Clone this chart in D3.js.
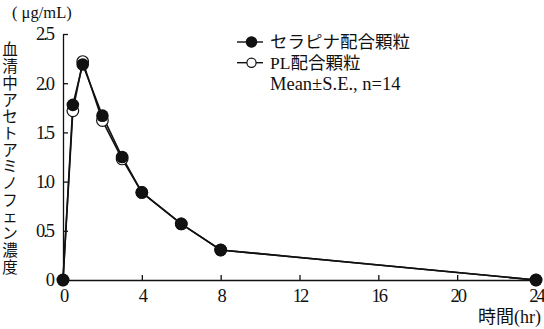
<!DOCTYPE html>
<html>
<head>
<meta charset="utf-8">
<script src="https://cdn.jsdelivr.net/npm/d3@7"></script>
<style>
  body { margin: 0; background: #fff; }
  text { font-family: "Liberation Serif", "DejaVu Serif", "Noto Sans CJK JP", serif; fill: #111; }
</style>
</head>
<body>
<script>
// DATA
const hours = [0, 0.5, 1, 2, 3, 4, 6, 8, 24];
const serapina = [0, 1.78, 2.19, 1.67, 1.25, 0.89, 0.57, 0.305, 0];
const pl = [0, 1.72, 2.22, 1.62, 1.23, 0.89, 0.57, 0.305, 0];
const xTicks = [0, 4, 8, 12, 16, 20, 24];
const yTicks = [0, 0.5, 1.0, 1.5, 2.0, 2.5];
const yTickLabels = ["0", "0.5", "1.0", "1.5", "2.0", "2.5"];
const legendLabels = ["セラピナ配合顆粒", "PL配合顆粒"];
const note = "Mean±S.E., n=14";
const yTitle = "血清中アセトアミノフェン濃度";
const unitLabel = "( μg/mL)";
const xTitle = "時間(hr)";

const width = 544;
const height = 329;

const svg = d3.select("body").append("svg")
  .attr("width", width)
  .attr("height", height);

// SCALES
const xScale = d3.scaleLinear().domain([0, 24]).range([63, 536]);
const yScale = d3.scaleLinear().domain([0, 2.5]).range([280, 34]);

// AXES
const xAxis = d3.axisBottom(xScale).tickValues(xTicks).tickSizeInner(-5).tickSizeOuter(0);
const yAxis = d3.axisLeft(yScale).tickValues(yTicks).tickSizeInner(-5).tickSizeOuter(0)
  .tickPadding(10).tickFormat((d, i) => yTickLabels[i]);

const gx = svg.append("g").attr("transform", `translate(0,${yScale(0)})`).call(xAxis);
const gy = svg.append("g").attr("transform", `translate(${xScale(0)},0)`).call(yAxis);

[gx, gy].forEach((g) => {
  g.select(".domain").attr("stroke", "#111").attr("stroke-width", 1.3);
  g.selectAll(".tick line").attr("stroke", "#111").attr("stroke-width", 1.3);
  g.selectAll(".tick text").attr("font-size", 18.5).attr("fill", "#111")
    .attr("letter-spacing", -2)
    .style("font-family", '"Liberation Serif", serif');
});
gx.selectAll(".tick text").attr("y", 9).attr("dy", "0.71em");

// LINES
const line = d3.line().x((d, i) => xScale(hours[i])).y((d) => yScale(d));

svg.append("path").datum(pl).attr("d", line)
  .attr("fill", "none").attr("stroke", "#111").attr("stroke-width", 1.6);
svg.append("path").datum(serapina).attr("d", line)
  .attr("fill", "none").attr("stroke", "#111").attr("stroke-width", 1.6);

// POINTS
svg.selectAll(".pl").data(pl).enter().append("circle")
  .attr("class", "pl")
  .attr("cx", (d, i) => xScale(hours[i]))
  .attr("cy", (d) => yScale(d))
  .attr("r", 5.8)
  .attr("fill", "#fff").attr("stroke", "#111").attr("stroke-width", 1.2);

svg.selectAll(".serapina").data(serapina).enter().append("circle")
  .attr("class", "serapina")
  .attr("cx", (d, i) => xScale(hours[i]))
  .attr("cy", (d) => yScale(d))
  .attr("r", 6.3)
  .attr("fill", "#111");

// LEGEND
const legend = svg.append("g").attr("transform", "translate(237,42)");
legendLabels.forEach((label, i) => {
  const row = legend.append("g").attr("transform", `translate(0,${i * 20.7})`);
  row.append("line").attr("x1", 0).attr("x2", 26).attr("y1", 0).attr("y2", 0)
    .attr("stroke", "#111").attr("stroke-width", 1.4);
  row.append("circle").attr("cx", 14.5).attr("cy", 0).attr("r", i === 0 ? 5.2 : 4.6)
    .attr("fill", i === 0 ? "#111" : "#fff").attr("stroke", "#111").attr("stroke-width", 1.2);
  row.append("text").attr("x", 33).attr("y", 0).attr("dy", "0.35em")
    .attr("font-size", 17.5).text(label);
});
legend.append("text").attr("x", 33).attr("y", 41.5).attr("dy", "0.35em")
  .attr("font-size", 18.5).text(note);

// TITLES
svg.append("text").attr("x", 12).attr("y", 12).attr("dy", "0.35em")
  .attr("font-size", 16.5).text(unitLabel);

const yt = svg.append("text").attr("font-size", 15.5);
Array.from(yTitle).forEach((ch, i) => {
  yt.append("tspan").attr("x", 10).attr("y", 50 + i * 16.7)
    .attr("text-anchor", "middle").attr("dy", "0.35em").text(ch);
});

svg.append("text").attr("x", 541).attr("y", 317).attr("dy", "0.35em")
  .attr("text-anchor", "end").attr("font-size", 18).text(xTitle);
</script>
</body>
</html>
